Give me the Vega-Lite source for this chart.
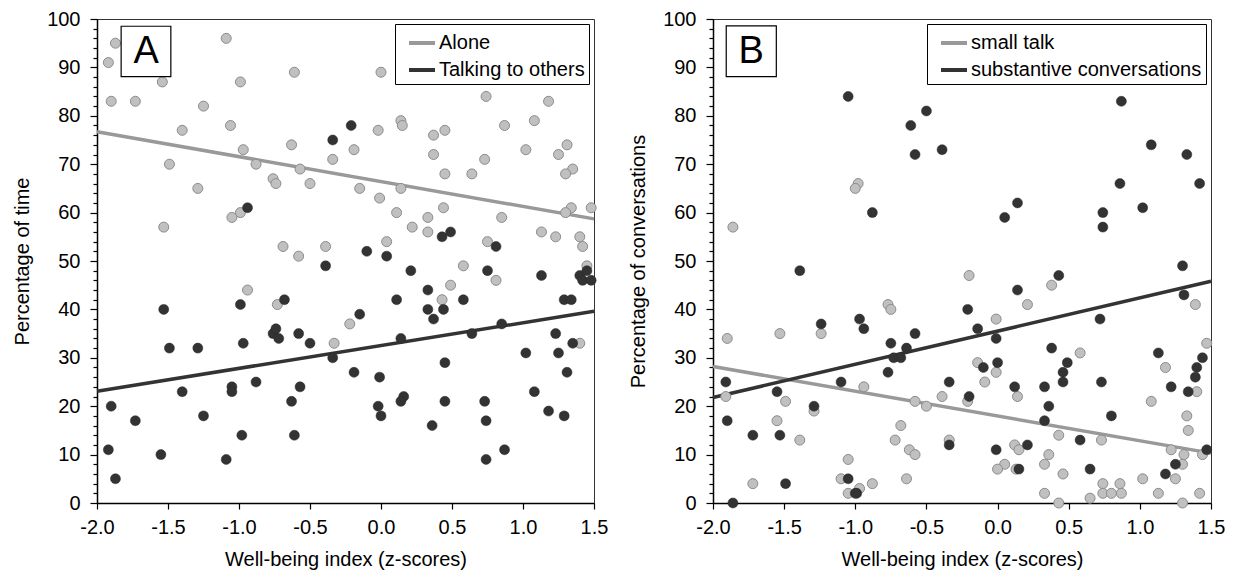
{
  "$schema": "https://vega.github.io/schema/vega-lite/v6.json",
  "padding": {"left": 12, "top": 8, "right": 5, "bottom": 5},
  "bounds": "flush",
  "spacing": 119,
  "config": {
    "font": "Liberation Sans",
    "view": {"stroke": "#333333", "strokeWidth": 1},
    "axis": {"labelFont": "Liberation Sans", "titleFont": "Liberation Sans", "labelFontSize": 20, "titleFontSize": 20, "titleFontWeight": "normal", "labelColor": "black", "titleColor": "black", "domainColor": "black", "tickColor": "black", "grid": false, "domainWidth": 1.5, "tickWidth": 1.2, "labelOverlap": false, "labelFlush": false, "labelBound": false},
    "legend": {"orient": "top-right", "offset": 5, "strokeColor": "black", "strokeWidth": 1, "fillColor": "white", "padding": 4, "rowPadding": 2, "symbolType": "stroke", "symbolSize": 676, "symbolStrokeWidth": 4, "labelFontSize": 20, "labelFont": "Liberation Sans", "labelColor": "black", "title": null, "labelOffset": 2, "symbolOffset": 8, "labelLimit": 0}
  },
  "resolve": {"scale": {"color": "independent"}, "legend": {"color": "independent"}},
  "datasets": {
    "ptsA": [
      {"x":-1.87,"y":95,"g":"Alone"},{"x":-1.92,"y":91,"g":"Alone"},{"x":-1.90,"y":83,"g":"Alone"},{"x":-1.73,"y":83,"g":"Alone"},{"x":-1.54,"y":87,"g":"Alone"},{"x":-1.40,"y":77,"g":"Alone"},{"x":-1.49,"y":70,"g":"Alone"},{"x":-1.25,"y":82,"g":"Alone"},{"x":-1.29,"y":65,"g":"Alone"},{"x":-1.53,"y":57,"g":"Alone"},{"x":-1.09,"y":96,"g":"Alone"},{"x":-0.99,"y":87,"g":"Alone"},{"x":-1.06,"y":78,"g":"Alone"},{"x":-0.97,"y":73,"g":"Alone"},{"x":-0.88,"y":70,"g":"Alone"},{"x":-1.05,"y":59,"g":"Alone"},{"x":-0.99,"y":60,"g":"Alone"},{"x":-0.61,"y":89,"g":"Alone"},{"x":-0.63,"y":74,"g":"Alone"},{"x":-0.57,"y":69,"g":"Alone"},{"x":-0.76,"y":67,"g":"Alone"},{"x":-0.74,"y":66,"g":"Alone"},{"x":-0.50,"y":66,"g":"Alone"},{"x":-0.34,"y":71,"g":"Alone"},{"x":-0.69,"y":53,"g":"Alone"},{"x":-0.58,"y":51,"g":"Alone"},{"x":-0.39,"y":53,"g":"Alone"},
      {"x":0.00,"y":89,"g":"Alone"},{"x":0.74,"y":89,"g":"Alone"},{"x":0.74,"y":84,"g":"Alone"},{"x":1.18,"y":83,"g":"Alone"},{"x":0.14,"y":79,"g":"Alone"},{"x":0.15,"y":78,"g":"Alone"},{"x":-0.02,"y":77,"g":"Alone"},{"x":0.37,"y":76,"g":"Alone"},{"x":0.45,"y":77,"g":"Alone"},{"x":0.87,"y":78,"g":"Alone"},{"x":1.08,"y":79,"g":"Alone"},{"x":-0.19,"y":73,"g":"Alone"},{"x":0.37,"y":72,"g":"Alone"},{"x":0.73,"y":71,"g":"Alone"},{"x":1.02,"y":73,"g":"Alone"},{"x":1.31,"y":74,"g":"Alone"},{"x":1.25,"y":72,"g":"Alone"},{"x":1.35,"y":69,"g":"Alone"},{"x":1.30,"y":68,"g":"Alone"},{"x":0.45,"y":68,"g":"Alone"},{"x":0.64,"y":68,"g":"Alone"},{"x":-0.15,"y":65,"g":"Alone"},{"x":0.14,"y":65,"g":"Alone"},{"x":-0.01,"y":63,"g":"Alone"},{"x":0.11,"y":60,"g":"Alone"},{"x":0.44,"y":61,"g":"Alone"},{"x":0.33,"y":59,"g":"Alone"},{"x":0.85,"y":59,"g":"Alone"},{"x":0.22,"y":57,"g":"Alone"},{"x":0.33,"y":56,"g":"Alone"},{"x":1.34,"y":61,"g":"Alone"},{"x":1.30,"y":60,"g":"Alone"},{"x":1.48,"y":61,"g":"Alone"},{"x":1.13,"y":56,"g":"Alone"},{"x":1.23,"y":55,"g":"Alone"},{"x":1.40,"y":55,"g":"Alone"},{"x":1.42,"y":53,"g":"Alone"},{"x":0.04,"y":54,"g":"Alone"},{"x":0.75,"y":54,"g":"Alone"},
      {"x":-0.94,"y":44,"g":"Alone"},{"x":-0.73,"y":41,"g":"Alone"},{"x":-0.33,"y":33,"g":"Alone"},{"x":0.58,"y":49,"g":"Alone"},{"x":0.49,"y":45,"g":"Alone"},{"x":0.43,"y":42,"g":"Alone"},{"x":0.81,"y":46,"g":"Alone"},{"x":-0.22,"y":37,"g":"Alone"},{"x":1.45,"y":49,"g":"Alone"},{"x":1.40,"y":33,"g":"Alone"},
      {"x":-0.94,"y":61,"g":"Talking to others"},{"x":-0.34,"y":75,"g":"Talking to others"},{"x":-0.21,"y":78,"g":"Talking to others"},{"x":0.43,"y":55,"g":"Talking to others"},{"x":0.49,"y":56,"g":"Talking to others"},{"x":-0.10,"y":52,"g":"Talking to others"},{"x":0.04,"y":51,"g":"Talking to others"},{"x":0.81,"y":53,"g":"Talking to others"},
      {"x":-1.90,"y":20,"g":"Talking to others"},{"x":-1.92,"y":11,"g":"Talking to others"},{"x":-1.87,"y":5,"g":"Talking to others"},{"x":-1.73,"y":17,"g":"Talking to others"},{"x":-1.53,"y":40,"g":"Talking to others"},{"x":-1.49,"y":32,"g":"Talking to others"},{"x":-1.55,"y":10,"g":"Talking to others"},{"x":-1.40,"y":23,"g":"Talking to others"},{"x":-1.29,"y":32,"g":"Talking to others"},{"x":-1.25,"y":18,"g":"Talking to others"},{"x":-1.09,"y":9,"g":"Talking to others"},{"x":-1.05,"y":24,"g":"Talking to others"},{"x":-1.05,"y":23,"g":"Talking to others"},{"x":-0.99,"y":41,"g":"Talking to others"},{"x":-0.97,"y":33,"g":"Talking to others"},{"x":-0.98,"y":14,"g":"Talking to others"},{"x":-0.88,"y":25,"g":"Talking to others"},{"x":-0.76,"y":35,"g":"Talking to others"},{"x":-0.74,"y":36,"g":"Talking to others"},{"x":-0.72,"y":34,"g":"Talking to others"},{"x":-0.68,"y":42,"g":"Talking to others"},{"x":-0.63,"y":21,"g":"Talking to others"},{"x":-0.61,"y":14,"g":"Talking to others"},{"x":-0.58,"y":35,"g":"Talking to others"},{"x":-0.57,"y":24,"g":"Talking to others"},{"x":-0.50,"y":33,"g":"Talking to others"},{"x":-0.39,"y":49,"g":"Talking to others"},{"x":-0.34,"y":30,"g":"Talking to others"},
      {"x":0.21,"y":48,"g":"Talking to others"},{"x":0.75,"y":48,"g":"Talking to others"},{"x":1.13,"y":47,"g":"Talking to others"},{"x":1.40,"y":47,"g":"Talking to others"},{"x":1.45,"y":48,"g":"Talking to others"},{"x":1.42,"y":46,"g":"Talking to others"},{"x":1.48,"y":46,"g":"Talking to others"},{"x":0.33,"y":44,"g":"Talking to others"},{"x":0.11,"y":42,"g":"Talking to others"},{"x":0.58,"y":42,"g":"Talking to others"},{"x":1.29,"y":42,"g":"Talking to others"},{"x":1.34,"y":42,"g":"Talking to others"},{"x":-0.15,"y":39,"g":"Talking to others"},{"x":0.33,"y":40,"g":"Talking to others"},{"x":0.44,"y":40,"g":"Talking to others"},{"x":0.37,"y":38,"g":"Talking to others"},{"x":0.85,"y":37,"g":"Talking to others"},{"x":0.64,"y":35,"g":"Talking to others"},{"x":0.14,"y":34,"g":"Talking to others"},{"x":1.23,"y":35,"g":"Talking to others"},{"x":1.35,"y":33,"g":"Talking to others"},{"x":1.02,"y":31,"g":"Talking to others"},{"x":1.25,"y":31,"g":"Talking to others"},{"x":0.45,"y":29,"g":"Talking to others"},{"x":-0.19,"y":27,"g":"Talking to others"},{"x":-0.01,"y":26,"g":"Talking to others"},{"x":1.31,"y":27,"g":"Talking to others"},{"x":1.08,"y":23,"g":"Talking to others"},{"x":0.16,"y":22,"g":"Talking to others"},{"x":0.14,"y":21,"g":"Talking to others"},{"x":0.45,"y":21,"g":"Talking to others"},{"x":0.73,"y":21,"g":"Talking to others"},{"x":-0.02,"y":20,"g":"Talking to others"},{"x":0.00,"y":18,"g":"Talking to others"},{"x":0.74,"y":17,"g":"Talking to others"},{"x":1.18,"y":19,"g":"Talking to others"},{"x":1.29,"y":18,"g":"Talking to others"},{"x":0.36,"y":16,"g":"Talking to others"},{"x":0.74,"y":9,"g":"Talking to others"},{"x":0.87,"y":11,"g":"Talking to others"}
    ],
    "linesA": [
      {"x":-2,"y":76.7,"g":"Alone"},{"x":1.5,"y":58.7,"g":"Alone"},
      {"x":-2,"y":23.1,"g":"Talking to others"},{"x":1.5,"y":39.6,"g":"Talking to others"}
    ],
    "ptsB": [
      {"x":-0.98,"y":66,"g":"small talk"},{"x":-1.00,"y":65,"g":"small talk"},{"x":-1.86,"y":57,"g":"small talk"},
      {"x":-1.90,"y":34,"g":"small talk"},{"x":-1.53,"y":35,"g":"small talk"},{"x":-1.24,"y":35,"g":"small talk"},{"x":-0.77,"y":41,"g":"small talk"},{"x":-0.75,"y":40,"g":"small talk"},{"x":-0.20,"y":47,"g":"small talk"},{"x":-0.94,"y":24,"g":"small talk"},{"x":-1.91,"y":22,"g":"small talk"},{"x":-1.49,"y":21,"g":"small talk"},{"x":-0.58,"y":21,"g":"small talk"},{"x":-0.50,"y":20,"g":"small talk"},{"x":-0.39,"y":22,"g":"small talk"},{"x":-0.21,"y":21,"g":"small talk"},{"x":-1.29,"y":19,"g":"small talk"},{"x":-1.55,"y":17,"g":"small talk"},{"x":-0.68,"y":16,"g":"small talk"},{"x":-1.39,"y":13,"g":"small talk"},{"x":-0.72,"y":13,"g":"small talk"},{"x":-0.62,"y":11,"g":"small talk"},{"x":-0.58,"y":10,"g":"small talk"},{"x":-0.34,"y":13,"g":"small talk"},{"x":-1.05,"y":9,"g":"small talk"},{"x":-1.10,"y":5,"g":"small talk"},{"x":-1.72,"y":4,"g":"small talk"},{"x":-1.05,"y":2,"g":"small talk"},{"x":-0.97,"y":3,"g":"small talk"},{"x":-0.88,"y":4,"g":"small talk"},{"x":-0.64,"y":5,"g":"small talk"},
      {"x":0.38,"y":45,"g":"small talk"},{"x":1.39,"y":41,"g":"small talk"},{"x":0.21,"y":41,"g":"small talk"},{"x":-0.01,"y":38,"g":"small talk"},{"x":1.47,"y":33,"g":"small talk"},{"x":0.58,"y":31,"g":"small talk"},{"x":-0.14,"y":29,"g":"small talk"},{"x":-0.01,"y":27,"g":"small talk"},{"x":-0.09,"y":25,"g":"small talk"},{"x":1.18,"y":28,"g":"small talk"},{"x":0.14,"y":22,"g":"small talk"},{"x":1.08,"y":21,"g":"small talk"},{"x":1.40,"y":23,"g":"small talk"},{"x":1.33,"y":18,"g":"small talk"},{"x":1.34,"y":15,"g":"small talk"},{"x":0.43,"y":14,"g":"small talk"},{"x":0.73,"y":13,"g":"small talk"},{"x":0.12,"y":12,"g":"small talk"},{"x":0.15,"y":11,"g":"small talk"},{"x":1.22,"y":11,"g":"small talk"},{"x":1.31,"y":10,"g":"small talk"},{"x":1.44,"y":10,"g":"small talk"},{"x":0.36,"y":10,"g":"small talk"},{"x":0.05,"y":8,"g":"small talk"},{"x":0.00,"y":7,"g":"small talk"},{"x":0.33,"y":8,"g":"small talk"},{"x":0.13,"y":7,"g":"small talk"},{"x":1.30,"y":8,"g":"small talk"},{"x":0.46,"y":6,"g":"small talk"},{"x":1.25,"y":5,"g":"small talk"},{"x":1.02,"y":5,"g":"small talk"},{"x":0.74,"y":4,"g":"small talk"},{"x":0.86,"y":4,"g":"small talk"},{"x":0.74,"y":2,"g":"small talk"},{"x":0.80,"y":2,"g":"small talk"},{"x":0.87,"y":2,"g":"small talk"},{"x":0.33,"y":2,"g":"small talk"},{"x":1.13,"y":2,"g":"small talk"},{"x":1.42,"y":2,"g":"small talk"},{"x":0.43,"y":0,"g":"small talk"},{"x":0.65,"y":1,"g":"small talk"},{"x":1.30,"y":0,"g":"small talk"},
      {"x":-1.05,"y":84,"g":"substantive conversations"},{"x":-0.50,"y":81,"g":"substantive conversations"},{"x":-0.61,"y":78,"g":"substantive conversations"},{"x":-0.58,"y":72,"g":"substantive conversations"},{"x":-0.39,"y":73,"g":"substantive conversations"},{"x":-0.88,"y":60,"g":"substantive conversations"},
      {"x":0.87,"y":83,"g":"substantive conversations"},{"x":1.08,"y":74,"g":"substantive conversations"},{"x":1.33,"y":72,"g":"substantive conversations"},{"x":0.86,"y":66,"g":"substantive conversations"},{"x":1.42,"y":66,"g":"substantive conversations"},{"x":0.14,"y":62,"g":"substantive conversations"},{"x":0.05,"y":59,"g":"substantive conversations"},{"x":0.74,"y":60,"g":"substantive conversations"},{"x":0.74,"y":57,"g":"substantive conversations"},{"x":1.02,"y":61,"g":"substantive conversations"},
      {"x":-1.39,"y":48,"g":"substantive conversations"},{"x":-1.24,"y":37,"g":"substantive conversations"},{"x":-0.97,"y":38,"g":"substantive conversations"},{"x":-0.94,"y":36,"g":"substantive conversations"},{"x":-0.58,"y":35,"g":"substantive conversations"},{"x":-0.75,"y":33,"g":"substantive conversations"},{"x":-0.64,"y":32,"g":"substantive conversations"},{"x":-0.73,"y":30,"g":"substantive conversations"},{"x":-0.68,"y":30,"g":"substantive conversations"},{"x":-0.77,"y":27,"g":"substantive conversations"},{"x":-1.10,"y":25,"g":"substantive conversations"},{"x":-1.91,"y":25,"g":"substantive conversations"},{"x":-1.55,"y":23,"g":"substantive conversations"},{"x":-1.29,"y":20,"g":"substantive conversations"},{"x":-1.90,"y":17,"g":"substantive conversations"},{"x":-1.72,"y":14,"g":"substantive conversations"},{"x":-1.53,"y":14,"g":"substantive conversations"},{"x":-1.49,"y":4,"g":"substantive conversations"},{"x":-1.05,"y":5,"g":"substantive conversations"},{"x":-0.99,"y":2,"g":"substantive conversations"},{"x":-1.00,"y":2,"g":"substantive conversations"},{"x":-1.86,"y":0,"g":"substantive conversations"},{"x":-0.34,"y":25,"g":"substantive conversations"},{"x":-0.34,"y":12,"g":"substantive conversations"},{"x":-0.21,"y":40,"g":"substantive conversations"},{"x":-0.20,"y":22,"g":"substantive conversations"},
      {"x":1.30,"y":49,"g":"substantive conversations"},{"x":0.43,"y":47,"g":"substantive conversations"},{"x":0.14,"y":44,"g":"substantive conversations"},{"x":1.31,"y":43,"g":"substantive conversations"},{"x":-0.14,"y":36,"g":"substantive conversations"},{"x":0.72,"y":38,"g":"substantive conversations"},{"x":-0.01,"y":34,"g":"substantive conversations"},{"x":0.38,"y":32,"g":"substantive conversations"},{"x":1.13,"y":31,"g":"substantive conversations"},{"x":1.44,"y":30,"g":"substantive conversations"},{"x":0.00,"y":29,"g":"substantive conversations"},{"x":0.49,"y":29,"g":"substantive conversations"},{"x":-0.10,"y":28,"g":"substantive conversations"},{"x":1.40,"y":28,"g":"substantive conversations"},{"x":0.46,"y":27,"g":"substantive conversations"},{"x":1.39,"y":26,"g":"substantive conversations"},{"x":0.46,"y":25,"g":"substantive conversations"},{"x":0.73,"y":25,"g":"substantive conversations"},{"x":0.12,"y":24,"g":"substantive conversations"},{"x":0.33,"y":24,"g":"substantive conversations"},{"x":1.22,"y":24,"g":"substantive conversations"},{"x":1.34,"y":23,"g":"substantive conversations"},{"x":0.36,"y":20,"g":"substantive conversations"},{"x":0.80,"y":18,"g":"substantive conversations"},{"x":0.33,"y":17,"g":"substantive conversations"},{"x":0.58,"y":13,"g":"substantive conversations"},{"x":0.21,"y":12,"g":"substantive conversations"},{"x":-0.01,"y":11,"g":"substantive conversations"},{"x":1.47,"y":11,"g":"substantive conversations"},{"x":0.15,"y":7,"g":"substantive conversations"},{"x":0.65,"y":7,"g":"substantive conversations"},{"x":1.25,"y":8,"g":"substantive conversations"},{"x":1.18,"y":6,"g":"substantive conversations"}
    ],
    "linesB": [
      {"x":-2,"y":28.2,"g":"small talk"},{"x":1.5,"y":10.3,"g":"small talk"},
      {"x":-2,"y":21.8,"g":"substantive conversations"},{"x":1.5,"y":45.8,"g":"substantive conversations"}
    ],
    "letters": [{"letter": "A"}, {"letter": "B"}]
  },
  "hconcat": [
    {
      "width": 497,
      "height": 484,
      "layer": [
        {
          "encoding": {
            "x": {"field": "x", "type": "quantitative", "scale": {"domain": [-2, 1.5], "nice": false, "zero": false},
              "axis": {"values": [-2, -1.5, -1, -0.5, 0, 0.5, 1, 1.5], "labelExpr": "(datum.value < 0 ? '-' : '') + format(abs(datum.value), '.1f')", "tickSize": 6, "labelPadding": 8, "titlePadding": 12, "title": "Well-being index (z-scores)"}},
            "y": {"field": "y", "type": "quantitative", "scale": {"domain": [0, 100], "nice": false},
              "axis": {"values": [0,2,4,6,8,10,12,14,16,18,20,22,24,26,28,30,32,34,36,38,40,42,44,46,48,50,52,54,56,58,60,62,64,66,68,70,72,74,76,78,80,82,84,86,88,90,92,94,96,98,100], "labelExpr": "datum.value % 10 === 0 ? datum.label : ''", "tickSize": {"condition": {"test": "datum.value % 10 === 0", "value": 7}, "value": 4}, "labelPadding": 10, "titlePadding": 14, "title": "Percentage of time"}}
          },
          "layer": [
            {"data": {"name": "linesA"}, "mark": {"type": "line", "strokeWidth": 3.5},
              "encoding": {"color": {"field": "g", "type": "nominal", "scale": {"domain": ["Alone", "Talking to others"], "range": ["#999999", "#333333"]}}}},
            {"data": {"name": "ptsA"}, "transform": [{"filter": "datum.g === 'Alone'"}], "mark": {"type": "circle", "size": 100, "fill": "#c0c0c0", "stroke": "#8c8c8c", "strokeWidth": 1, "opacity": 1}},
            {"data": {"name": "ptsA"}, "transform": [{"filter": "datum.g !== 'Alone'"}], "mark": {"type": "circle", "size": 100, "fill": "#333333", "stroke": "#2a2a2a", "strokeWidth": 0.5, "opacity": 1}}
          ]
        },
        {
          "data": {"name": "letters"},
          "transform": [{"filter": "datum.letter === 'A'"}],
          "encoding": {
            "x": {"datum": -1.83, "type": "quantitative", "scale": {"domain": [-2, 1.5], "nice": false, "zero": false},
              "axis": {"values": [-2, -1.5, -1, -0.5, 0, 0.5, 1, 1.5], "labelExpr": "(datum.value < 0 ? '-' : '') + format(abs(datum.value), '.1f')", "tickSize": 6, "labelPadding": 8, "titlePadding": 12, "title": "Well-being index (z-scores)"}},
            "y": {"datum": 98.5, "type": "quantitative", "scale": {"domain": [0, 100], "nice": false},
              "axis": {"values": [0,2,4,6,8,10,12,14,16,18,20,22,24,26,28,30,32,34,36,38,40,42,44,46,48,50,52,54,56,58,60,62,64,66,68,70,72,74,76,78,80,82,84,86,88,90,92,94,96,98,100], "labelExpr": "datum.value % 10 === 0 ? datum.label : ''", "tickSize": {"condition": {"test": "datum.value % 10 === 0", "value": 7}, "value": 4}, "labelPadding": 10, "titlePadding": 14, "title": "Percentage of time"}}
          },
          "layer": [
            {"mark": {"type": "rect", "fill": "white", "stroke": "black", "strokeWidth": 1.2},
              "encoding": {"x2": {"datum": -1.48}, "y2": {"datum": 88.1}}},
            {"mark": {"type": "text", "fontSize": 38, "font": "Liberation Sans", "fill": "black", "baseline": "middle", "align": "center", "dx": 25, "dy": 26},
              "encoding": {"text": {"field": "letter", "type": "nominal"}}}
          ]
        }
      ]
    },
    {
      "width": 498,
      "height": 484,
      "layer": [
        {
          "encoding": {
            "x": {"field": "x", "type": "quantitative", "scale": {"domain": [-2, 1.5], "nice": false, "zero": false},
              "axis": {"values": [-2, -1.5, -1, -0.5, 0, 0.5, 1, 1.5], "labelExpr": "(datum.value < 0 ? '-' : '') + format(abs(datum.value), '.1f')", "tickSize": 6, "labelPadding": 8, "titlePadding": 12, "title": "Well-being index (z-scores)"}},
            "y": {"field": "y", "type": "quantitative", "scale": {"domain": [0, 100], "nice": false},
              "axis": {"values": [0,2,4,6,8,10,12,14,16,18,20,22,24,26,28,30,32,34,36,38,40,42,44,46,48,50,52,54,56,58,60,62,64,66,68,70,72,74,76,78,80,82,84,86,88,90,92,94,96,98,100], "labelExpr": "datum.value % 10 === 0 ? datum.label : ''", "tickSize": {"condition": {"test": "datum.value % 10 === 0", "value": 7}, "value": 4}, "labelPadding": 10, "titlePadding": 14, "title": "Percentage of conversations"}}
          },
          "layer": [
            {"data": {"name": "linesB"}, "mark": {"type": "line", "strokeWidth": 3.5},
              "encoding": {"color": {"field": "g", "type": "nominal", "scale": {"domain": ["small talk", "substantive conversations"], "range": ["#999999", "#333333"]}}}},
            {"data": {"name": "ptsB"}, "transform": [{"filter": "datum.g === 'small talk'"}], "mark": {"type": "circle", "size": 100, "fill": "#c0c0c0", "stroke": "#8c8c8c", "strokeWidth": 1, "opacity": 1}},
            {"data": {"name": "ptsB"}, "transform": [{"filter": "datum.g !== 'small talk'"}], "mark": {"type": "circle", "size": 100, "fill": "#333333", "stroke": "#2a2a2a", "strokeWidth": 0.5, "opacity": 1}}
          ]
        },
        {
          "data": {"name": "letters"},
          "transform": [{"filter": "datum.letter === 'B'"}],
          "encoding": {
            "x": {"datum": -1.907, "type": "quantitative", "scale": {"domain": [-2, 1.5], "nice": false, "zero": false},
              "axis": {"values": [-2, -1.5, -1, -0.5, 0, 0.5, 1, 1.5], "labelExpr": "(datum.value < 0 ? '-' : '') + format(abs(datum.value), '.1f')", "tickSize": 6, "labelPadding": 8, "titlePadding": 12, "title": "Well-being index (z-scores)"}},
            "y": {"datum": 98.6, "type": "quantitative", "scale": {"domain": [0, 100], "nice": false},
              "axis": {"values": [0,2,4,6,8,10,12,14,16,18,20,22,24,26,28,30,32,34,36,38,40,42,44,46,48,50,52,54,56,58,60,62,64,66,68,70,72,74,76,78,80,82,84,86,88,90,92,94,96,98,100], "labelExpr": "datum.value % 10 === 0 ? datum.label : ''", "tickSize": {"condition": {"test": "datum.value % 10 === 0", "value": 7}, "value": 4}, "labelPadding": 10, "titlePadding": 14, "title": "Percentage of conversations"}}
          },
          "layer": [
            {"mark": {"type": "rect", "fill": "white", "stroke": "black", "strokeWidth": 1.2},
              "encoding": {"x2": {"datum": -1.555}, "y2": {"datum": 88.1}}},
            {"mark": {"type": "text", "fontSize": 38, "font": "Liberation Sans", "fill": "black", "baseline": "middle", "align": "center", "dx": 25, "dy": 26},
              "encoding": {"text": {"field": "letter", "type": "nominal"}}}
          ]
        }
      ]
    }
  ]
}
